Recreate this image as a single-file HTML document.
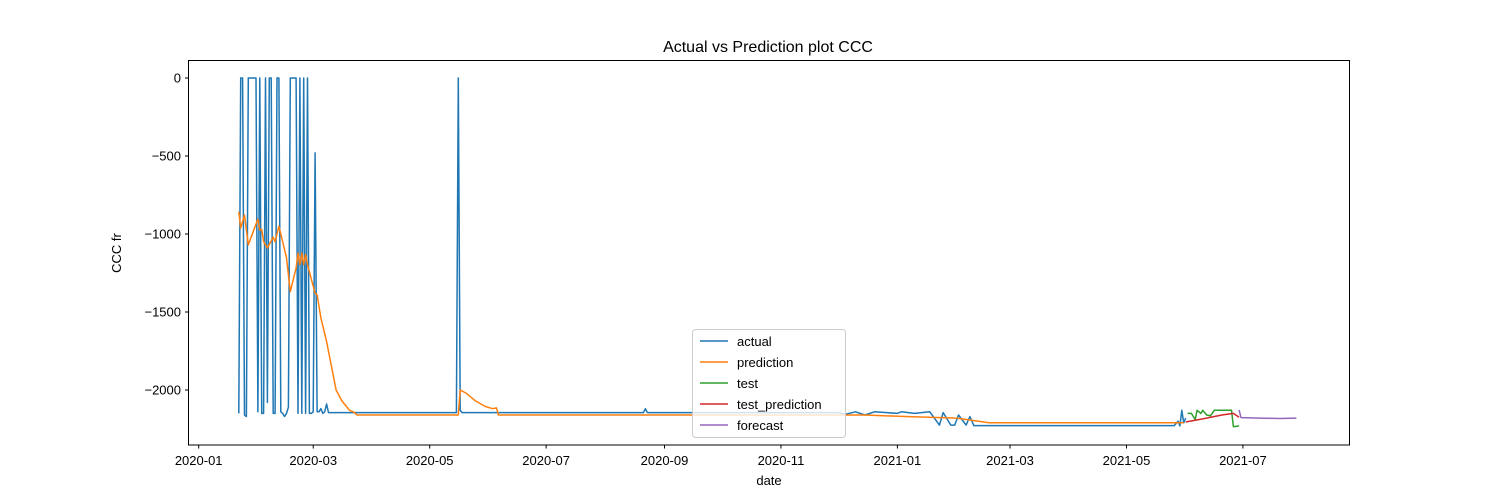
<!DOCTYPE html>
<html><head><meta charset="utf-8"><style>
html,body{margin:0;padding:0;background:#fff;}
svg{display:block;font-family:"Liberation Sans","DejaVu Sans",sans-serif;}
</style></head><body>
<svg id="chart" width="1500" height="500" xmlns="http://www.w3.org/2000/svg">
<rect width="1500" height="500" fill="#fff"/>
<text x="768" y="52" font-size="16" text-anchor="middle">Actual vs Prediction plot CCC</text>
<text x="769" y="485" font-size="13" text-anchor="middle">date</text>
<text x="121" y="253" font-size="13" text-anchor="middle" transform="rotate(-90 121 253)">CCC fr</text>
<g id="series"></g>
<g id="axes"></g>
<rect x="188.5" y="60.5" width="1161" height="384.5" fill="none" stroke="#000" stroke-width="1"/>
<g>
<rect x="692.5" y="329.5" width="153" height="108" rx="3" fill="#fff" fill-opacity="0.8" stroke="#ccc"/>
<line x1="700" y1="341" x2="728" y2="341" stroke="#1f77b4" stroke-width="1.5"/><text x="737" y="346" font-size="13">actual</text>
<line x1="700" y1="362" x2="728" y2="362" stroke="#ff7f0e" stroke-width="1.5"/><text x="737" y="367" font-size="13">prediction</text>
<line x1="700" y1="383" x2="728" y2="383" stroke="#2ca02c" stroke-width="1.5"/><text x="737" y="388" font-size="13">test</text>
<line x1="700" y1="404" x2="728" y2="404" stroke="#d62728" stroke-width="1.5"/><text x="737" y="409" font-size="13">test_prediction</text>
<line x1="700" y1="425" x2="728" y2="425" stroke="#9467bd" stroke-width="1.5"/><text x="737" y="430" font-size="13">forecast</text>
</g>
</svg>
<script>
const xTickLabels=["2020-01","2020-03","2020-05","2020-07","2020-09","2020-11","2021-01","2021-03","2021-05","2021-07"];
const yTickValues=[0,-500,-1000,-1500,-2000];
const actualDates=["2020-01-22","2020-01-23","2020-01-24","2020-01-25","2020-01-26","2020-01-27","2020-01-31","2020-02-01","2020-02-02","2020-02-03","2020-02-04","2020-02-05","2020-02-06","2020-02-07","2020-02-08","2020-02-09","2020-02-10","2020-02-11","2020-02-12","2020-02-13","2020-02-14","2020-02-15","2020-02-16","2020-02-17","2020-02-18","2020-02-21","2020-02-22","2020-02-23","2020-02-24","2020-02-25","2020-02-26","2020-02-27","2020-02-28","2020-02-29","2020-03-01","2020-03-02","2020-03-03","2020-03-04","2020-03-05","2020-03-06","2020-03-07","2020-03-08","2020-03-09","2020-05-15","2020-05-16","2020-05-17","2020-05-18","2020-08-21","2020-08-22","2020-08-23","2020-12-01","2020-12-05","2020-12-10","2020-12-15","2020-12-20","2021-01-01","2021-01-03","2021-01-10","2021-01-18","2021-01-23","2021-01-25","2021-01-29","2021-01-31","2021-02-02","2021-02-06","2021-02-08","2021-02-10","2021-05-26","2021-05-28","2021-05-29","2021-05-30","2021-05-31","2021-06-01"];
const actualValues=[-2150,0,0,-2160,-2170,0,0,-2140,0,-2150,-2150,0,-2080,0,0,-2150,-2150,0,0,-2140,-2150,-2170,-2150,-2110,0,0,-2150,0,-2150,0,-2150,0,-2150,-2150,-2140,-480,-2140,-2140,-2120,-2150,-2140,-2090,-2145,-2145,0,-2130,-2145,-2145,-2120,-2145,-2145,-2155,-2140,-2160,-2140,-2150,-2140,-2150,-2140,-2225,-2145,-2225,-2225,-2160,-2225,-2170,-2228,-2228,-2200,-2230,-2130,-2210,-2180];
const predDates=["2020-01-22","2020-01-23","2020-01-25","2020-01-27","2020-02-01","2020-02-02","2020-02-03","2020-02-04","2020-02-06","2020-02-09","2020-02-10","2020-02-12","2020-02-16","2020-02-18","2020-02-21","2020-02-22","2020-02-23","2020-02-24","2020-02-25","2020-02-26","2020-02-27","2020-03-02","2020-03-03","2020-03-05","2020-03-08","2020-03-13","2020-03-16","2020-03-18","2020-03-20","2020-03-22","2020-03-24","2020-05-16","2020-05-17","2020-05-20","2020-05-25","2020-05-30","2020-06-03","2020-06-05","2020-06-06","2020-12-15","2021-01-05","2021-02-01","2021-02-18","2021-05-31"];
const predValues=[-857,-962,-878,-1070,-904,-975,-970,-1049,-1090,-1020,-1050,-950,-1152,-1370,-1218,-1122,-1196,-1122,-1196,-1130,-1196,-1380,-1390,-1538,-1690,-2000,-2070,-2100,-2130,-2140,-2160,-2160,-2000,-2020,-2070,-2105,-2120,-2115,-2160,-2160,-2170,-2180,-2210,-2210];
const testDates=["2021-06-02","2021-06-04","2021-06-06","2021-06-07","2021-06-09","2021-06-10","2021-06-12","2021-06-14","2021-06-16","2021-06-25","2021-06-26","2021-06-29"];
const testValues=[-2150,-2150,-2190,-2130,-2150,-2130,-2160,-2165,-2130,-2130,-2235,-2230];
const testPredDates=["2021-06-01","2021-06-10","2021-06-20","2021-06-26","2021-06-29"];
const testPredValues=[-2205,-2185,-2160,-2150,-2175];
const forecastDates=["2021-06-29","2021-06-30","2021-07-10","2021-07-20","2021-07-29"];
const forecastValues=[-2128,-2177,-2180,-2183,-2180];

const NS="http://www.w3.org/2000/svg";
const day0=Date.UTC(2020,0,1);
function toDay(s){const p=s.split("-").map(Number);return (Date.UTC(p[0],p[1]-1,p[2]||1)-day0)/86400000;}
function xScale(s){return 198.7+toDay(s)*1.909;}
function yScale(v){return 78-v*0.156;}

const axes=document.getElementById("axes");
xTickLabels.forEach(l=>{
  const x=xScale(l);
  const t=document.createElementNS(NS,"line");
  
  
  t.setAttribute("x1",x);t.setAttribute("x2",x);t.setAttribute("y1",445);t.setAttribute("y2",448.5);t.setAttribute("stroke","#000");
  axes.appendChild(t);
  const tx=document.createElementNS(NS,"text");
  
  
  tx.setAttribute("x",x);tx.setAttribute("y",465);tx.setAttribute("font-size","13");tx.setAttribute("text-anchor","middle");
  tx.textContent=l;axes.appendChild(tx);
});
yTickValues.forEach(v=>{
  const y=yScale(v);
  const t=document.createElementNS(NS,"line");
  
  
  t.setAttribute("x1",185);t.setAttribute("x2",188.5);t.setAttribute("y1",y);t.setAttribute("y2",y);t.setAttribute("stroke","#000");
  axes.appendChild(t);
  const tx=document.createElementNS(NS,"text");
  
  
  tx.setAttribute("x",181);tx.setAttribute("y",y+4.5);tx.setAttribute("font-size","13");tx.setAttribute("text-anchor","end");
  tx.textContent=v<0?"\u2212"+Math.abs(v):String(v);axes.appendChild(tx);
});
const series=document.getElementById("series");
function drawLine(dates,vals,color,name){
  const d=dates.map((s,i)=>(i?"L":"M")+xScale(s).toFixed(1)+" "+yScale(vals[i]).toFixed(1)).join(" ");
  const p=document.createElementNS(NS,"path");
  
  
  p.setAttribute("d",d);p.setAttribute("fill","none");p.setAttribute("stroke",color);p.setAttribute("stroke-width","1.5");p.setAttribute("stroke-linejoin","round");
  series.appendChild(p);
}
drawLine(actualDates,actualValues,"#1f77b4","actual-line");
drawLine(predDates,predValues,"#ff7f0e","prediction-line");
drawLine(testDates,testValues,"#2ca02c","test-line");
drawLine(testPredDates,testPredValues,"#d62728","test-prediction-line");
drawLine(forecastDates,forecastValues,"#9467bd","forecast-line");
</script>
</body></html>
